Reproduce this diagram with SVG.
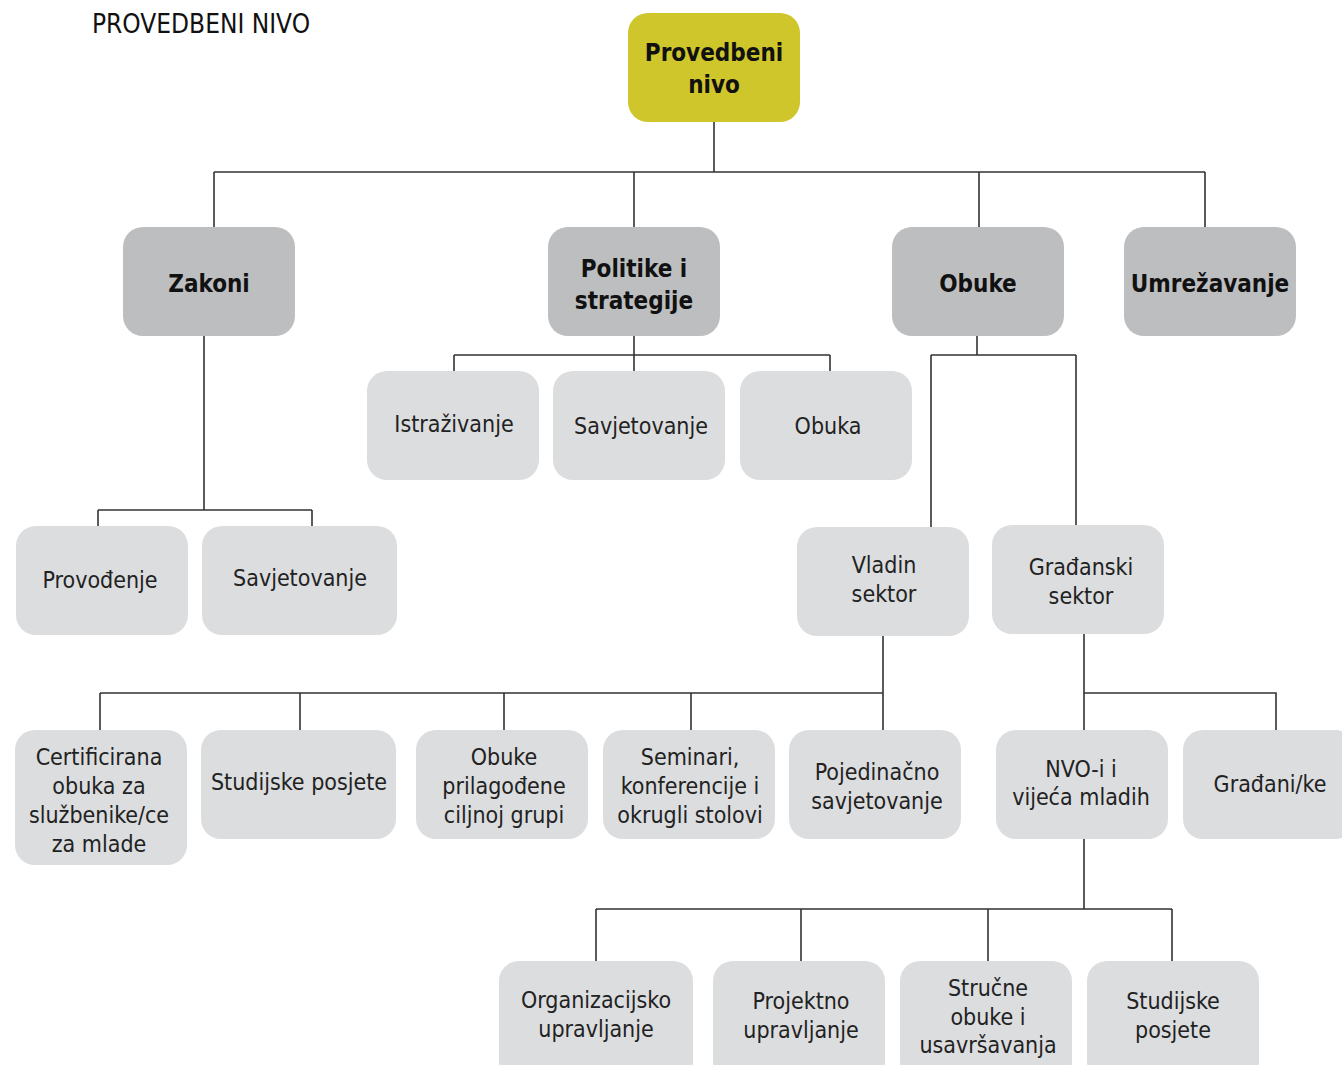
<svg xmlns="http://www.w3.org/2000/svg" width="1342" height="1065" viewBox="0 0 1342 1065">
<style>
.root{fill:#cfc62b}
.l1{fill:#bdbec0}
.l2{fill:#dcdddf}
text{font-family:"Liberation Sans Narrow","DejaVu Sans Condensed","Liberation Sans",sans-serif;fill:#222;text-anchor:middle}
.b{font-weight:bold;font-size:24px;fill:#111}
.n{font-size:23px}
.conn{fill:none;stroke:#333;stroke-width:1.6}
</style>
<rect width="1342" height="1065" fill="#fff"/>
<text x="92" y="33" style="text-anchor:start;font-size:26px;fill:#111">PROVEDBENI NIVO</text>
<g id="connectors" class="conn">
<path d="M714 122V172M214 172H1205M214 172V227M634 172V227M979 172V227M1205 172V227"/>
<path d="M204 336V510M98 510H312M98 510V526M312 510V526"/>
<path d="M634 336V355M454 355H830M454 355V371M634 355V371M830 355V371"/>
<path d="M977 336V355M931 355H1076M931 355V527M1076 355V526"/>
<path d="M883 636V693M100 693H883M100 693V730M300 693V730M504 693V730M691 693V730M883 693V730"/>
<path d="M1084 634V730M1084 693H1276V730"/>
<path d="M1084 839V909M596 909H1172M596 909V961M801 909V961M988 909V961M1172 909V961"/>
</g>
<g id="n-root"><rect class="root" x="628" y="13" width="172" height="109" rx="20"/><text class="b" x="714" y="61">Provedbeni</text><text class="b" x="714" y="93">nivo</text></g>
<g id="n-zakoni"><rect class="l1" x="123" y="227" width="172" height="109" rx="20"/><text class="b" x="209" y="292">Zakoni</text></g>
<g id="n-politike"><rect class="l1" x="548" y="227" width="172" height="109" rx="20"/><text class="b" x="634" y="277">Politike i</text><text class="b" x="634" y="309">strategije</text></g>
<g id="n-obuke"><rect class="l1" x="892" y="227" width="172" height="109" rx="20"/><text class="b" x="978" y="292">Obuke</text></g>
<g id="n-umrezavanje"><rect class="l1" x="1124" y="227" width="172" height="109" rx="20"/><text class="b" x="1210" y="292">Umrežavanje</text></g>
<g id="n-istrazivanje"><rect class="l2" x="367" y="371" width="172" height="109" rx="20"/><text class="n" x="454" y="432">Istraživanje</text></g>
<g id="n-savjetovanje1"><rect class="l2" x="553" y="371" width="172" height="109" rx="20"/><text class="n" x="641" y="434">Savjetovanje</text></g>
<g id="n-obuka"><rect class="l2" x="740" y="371" width="172" height="109" rx="20"/><text class="n" x="828" y="434">Obuka</text></g>
<g id="n-provodenje"><rect class="l2" x="16" y="526" width="172" height="109" rx="20"/><text class="n" x="100" y="588">Provođenje</text></g>
<g id="n-savjetovanje2"><rect class="l2" x="202" y="526" width="195" height="109" rx="20"/><text class="n" x="300" y="586">Savjetovanje</text></g>
<g id="n-vladin"><rect class="l2" x="797" y="527" width="172" height="109" rx="20"/><text class="n" x="884" y="573">Vladin</text><text class="n" x="884" y="602">sektor</text></g>
<g id="n-gradanski"><rect class="l2" x="992" y="525" width="172" height="109" rx="20"/><text class="n" x="1081" y="575">Građanski</text><text class="n" x="1081" y="604">sektor</text></g>
<g id="n-certificirana"><rect class="l2" x="15" y="730" width="172" height="135" rx="20"/><text class="n" x="99" y="765">Certificirana</text><text class="n" x="99" y="794">obuka za</text><text class="n" x="99" y="823">službenike/ce</text><text class="n" x="99" y="852">za mlade</text></g>
<g id="n-studijske1"><rect class="l2" x="201" y="730" width="195" height="109" rx="20"/><text class="n" x="299" y="790">Studijske posjete</text></g>
<g id="n-obukeprilagodjene"><rect class="l2" x="416" y="730" width="172" height="109" rx="20"/><text class="n" x="504" y="765">Obuke</text><text class="n" x="504" y="794">prilagođene</text><text class="n" x="504" y="823">ciljnoj grupi</text></g>
<g id="n-seminari"><rect class="l2" x="603" y="730" width="172" height="109" rx="20"/><text class="n" x="690" y="765">Seminari,</text><text class="n" x="690" y="794">konferencije i</text><text class="n" x="690" y="823">okrugli stolovi</text></g>
<g id="n-pojedinacno"><rect class="l2" x="789" y="730" width="172" height="109" rx="20"/><text class="n" x="877" y="780">Pojedinačno</text><text class="n" x="877" y="809">savjetovanje</text></g>
<g id="n-nvo"><rect class="l2" x="996" y="730" width="172" height="109" rx="20"/><text class="n" x="1081" y="777">NVO-i i</text><text class="n" x="1081" y="805">vijeća mladih</text></g>
<g id="n-gradani"><rect class="l2" x="1183" y="730" width="172" height="109" rx="20"/><text class="n" x="1270" y="792">Građani/ke</text></g>
<g id="n-organizacijsko"><rect class="l2" x="499" y="961" width="194" height="120" rx="20"/><text class="n" x="596" y="1008">Organizacijsko</text><text class="n" x="596" y="1037">upravljanje</text></g>
<g id="n-projektno"><rect class="l2" x="713" y="961" width="172" height="120" rx="20"/><text class="n" x="801" y="1009">Projektno</text><text class="n" x="801" y="1038">upravljanje</text></g>
<g id="n-strucne"><rect class="l2" x="900" y="961" width="172" height="120" rx="20"/><text class="n" x="988" y="996">Stručne</text><text class="n" x="988" y="1025">obuke i</text><text class="n" x="988" y="1053">usavršavanja</text></g>
<g id="n-studijske2"><rect class="l2" x="1087" y="961" width="172" height="120" rx="20"/><text class="n" x="1173" y="1009">Studijske</text><text class="n" x="1173" y="1038">posjete</text></g>
</svg>
